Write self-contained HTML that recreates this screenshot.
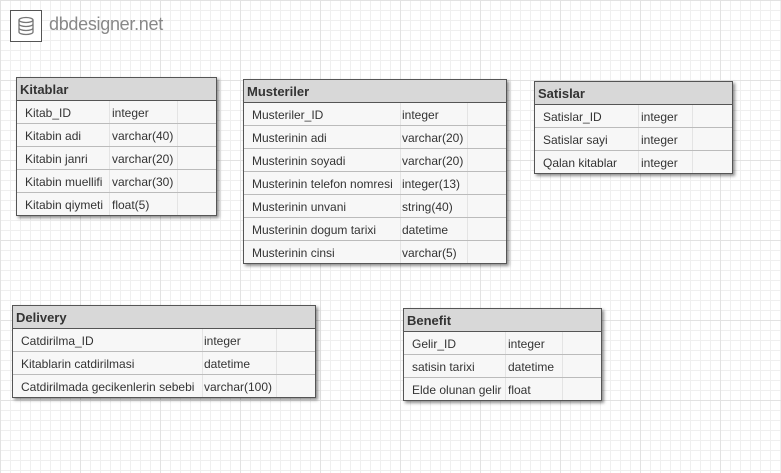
<!DOCTYPE html>
<html><head><meta charset="utf-8"><style>
body{margin:0;width:781px;height:473px;overflow:hidden;position:relative;font-family:"Liberation Sans",Arial,sans-serif;
background-color:#fff;
background-image:linear-gradient(#e2e2e2 1px,transparent 1px),linear-gradient(90deg,#e2e2e2 1px,transparent 1px),linear-gradient(#efefef 1px,transparent 1px),linear-gradient(90deg,#efefef 1px,transparent 1px);
background-size:80px 80px,80px 80px,10px 10px,10px 10px;}
.t{position:absolute;border:1px solid #555;background:#f7f7f7;box-shadow:2px 2px 3px rgba(0,0,0,.45);}
.h{height:22px;background:#d8d8d8;border-bottom:1px solid #555;font-weight:bold;font-size:13px;color:#333;line-height:23px;padding-left:3px;}
.r{height:22px;border-bottom:1px solid #bbb;font-size:12px;color:#333;line-height:24px;position:relative;}
.r:last-child{border-bottom:none}
.r span{position:absolute;top:0}
.r .a{left:8px}
.vs{position:absolute;top:23px;bottom:0;width:1px;background:#e4e4e4}
</style></head><body>
<div style="position:absolute;left:10px;top:10px;width:30px;height:30px;border:1px solid #555;background:#fff">
<svg width="30" height="30" viewBox="0 0 30 30"><g fill="none" stroke="#777" stroke-width="1.3"><ellipse cx="15" cy="9" rx="7" ry="2.5"/><path d="M8 9v12c0 1.4 3.1 2.5 7 2.5s7-1.1 7-2.5V9M8 13c0 1.4 3.1 2.5 7 2.5s7-1.1 7-2.5M8 17c0 1.4 3.1 2.5 7 2.5s7-1.1 7-2.5"/></g></svg></div>
<div style="position:absolute;left:49px;top:14px;font-size:18px;color:#888;letter-spacing:-0.3px">dbdesigner.net</div>

<div class="t" style="left:16px;top:77px;width:199px">
<div class="vs" style="left:92px"></div><div class="vs" style="left:160px"></div>
<div class="h">Kitablar</div>
<div class="r"><span class="a">Kitab_ID</span><span style="left:95px">integer</span></div>
<div class="r"><span class="a">Kitabin adi</span><span style="left:95px">varchar(40)</span></div>
<div class="r"><span class="a">Kitabin janri</span><span style="left:95px">varchar(20)</span></div>
<div class="r"><span class="a">Kitabin muellifi</span><span style="left:95px">varchar(30)</span></div>
<div class="r"><span class="a">Kitabin qiymeti</span><span style="left:95px">float(5)</span></div>
</div>

<div class="t" style="left:243px;top:79px;width:262px">
<div class="vs" style="left:156px"></div><div class="vs" style="left:223px"></div>
<div class="h">Musteriler</div>
<div class="r"><span class="a">Musteriler_ID</span><span style="left:158px">integer</span></div>
<div class="r"><span class="a">Musterinin adi</span><span style="left:158px">varchar(20)</span></div>
<div class="r"><span class="a">Musterinin soyadi</span><span style="left:158px">varchar(20)</span></div>
<div class="r"><span class="a">Musterinin telefon nomresi</span><span style="left:158px">integer(13)</span></div>
<div class="r"><span class="a">Musterinin unvani</span><span style="left:158px">string(40)</span></div>
<div class="r"><span class="a">Musterinin dogum tarixi</span><span style="left:158px">datetime</span></div>
<div class="r"><span class="a">Musterinin cinsi</span><span style="left:158px">varchar(5)</span></div>
</div>

<div class="t" style="left:534px;top:81px;width:197px">
<div class="vs" style="left:103px"></div><div class="vs" style="left:157px"></div>
<div class="h">Satislar</div>
<div class="r"><span class="a">Satislar_ID</span><span style="left:106px">integer</span></div>
<div class="r"><span class="a">Satislar sayi</span><span style="left:106px">integer</span></div>
<div class="r"><span class="a">Qalan kitablar</span><span style="left:106px">integer</span></div>
</div>

<div class="t" style="left:12px;top:305px;width:302px">
<div class="vs" style="left:189px"></div><div class="vs" style="left:263px"></div>
<div class="h">Delivery</div>
<div class="r"><span class="a">Catdirilma_ID</span><span style="left:191px">integer</span></div>
<div class="r"><span class="a">Kitablarin catdirilmasi</span><span style="left:191px">datetime</span></div>
<div class="r"><span class="a">Catdirilmada gecikenlerin sebebi</span><span style="left:191px">varchar(100)</span></div>
</div>

<div class="t" style="left:403px;top:308px;width:197px">
<div class="vs" style="left:101px"></div><div class="vs" style="left:158px"></div>
<div class="h">Benefit</div>
<div class="r"><span class="a">Gelir_ID</span><span style="left:104px">integer</span></div>
<div class="r"><span class="a">satisin tarixi</span><span style="left:104px">datetime</span></div>
<div class="r"><span class="a">Elde olunan gelir</span><span style="left:104px">float</span></div>
</div>
</body></html>
